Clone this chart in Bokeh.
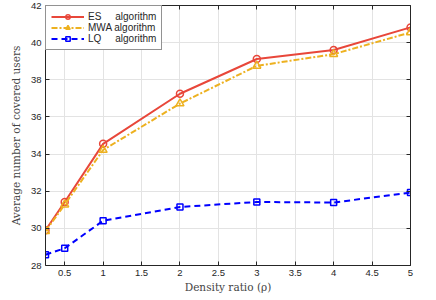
from bokeh.plotting import figure
from bokeh.models import LinearAxis, FixedTicker, Range1d, Legend, LegendItem
from bokeh.embed import file_html
from bokeh.resources import INLINE

density = [0.25, 0.5, 1, 2, 3, 4, 5]
es = [29.9, 31.42, 34.55, 37.25, 39.12, 39.6, 40.82]
mwa = [29.85, 31.28, 34.22, 36.72, 38.75, 39.38, 40.55]
lq = [28.58, 28.93, 30.41, 31.15, 31.42, 31.39, 31.93]

x_ticks = [0.5, 1, 1.5, 2, 2.5, 3, 3.5, 4, 4.5, 5]
x_tick_labels = ["0.5", "1", "1.5", "2", "2.5", "3", "3.5", "4", "4.5", "5"]
y_ticks = [28, 30, 32, 34, 36, 38, 40, 42]

legend_labels = ["ES\u00a0\u00a0\u00a0\u00a0\u00a0algorithm", "MWA algorithm", "LQ\u00a0\u00a0\u00a0\u00a0\u00a0algorithm"]

ES_C = "#e8473a"
MWA_C = "#edb120"
LQ_C = "#0000ff"
AX_C = "#262626"
TICK_FONT = "Liberation Sans"
LABEL_FONT = "DejaVu Serif"

p = figure(width=428, height=296, output_backend="svg", toolbar_location=None,
           x_range=Range1d(0.25, 5), y_range=Range1d(28, 42),
           min_border_left=45, min_border_right=18, min_border_top=5, min_border_bottom=31)
p.outline_line_color = None
p.background_fill_color = "white"

# grid
for g in (p.xgrid[0], p.ygrid[0]):
    g.grid_line_color = "#e3e3e3"
    g.grid_line_width = 1
p.xgrid[0].ticker = FixedTicker(ticks=x_ticks)
p.ygrid[0].ticker = FixedTicker(ticks=y_ticks)

def style_axis(ax, ticks, show_labels=True):
    ax.ticker = FixedTicker(ticks=ticks)
    ax.axis_line_color = AX_C
    ax.axis_line_width = 1
    ax.major_tick_in = 4
    ax.major_tick_out = 0
    ax.major_tick_line_color = AX_C
    ax.minor_tick_line_color = None
    ax.major_label_text_font = TICK_FONT
    if show_labels:
        ax.major_label_text_color = AX_C
        ax.major_label_text_font_size = "9.5px"
        ax.major_label_standoff = 4
    else:
        ax.major_label_text_color = None
        ax.major_label_standoff = 0

xa = p.xaxis[0]
style_axis(xa, x_ticks)
xa.major_label_overrides = {t: l for t, l in zip(x_ticks, x_tick_labels)}
xa.axis_label = "Density ratio (\u03c1)"
xa.axis_label_text_font = LABEL_FONT
xa.axis_label_text_font_style = "normal"
xa.axis_label_text_font_size = "10.5px"
xa.axis_label_text_color = "#444444"
xa.axis_label_standoff = 2

ya = p.yaxis[0]
style_axis(ya, y_ticks)
ya.axis_label = "Average number of covered users"
ya.axis_label_text_font = LABEL_FONT
ya.axis_label_text_font_style = "normal"
ya.axis_label_text_font_size = "10.5px"
ya.axis_label_text_color = "#444444"
ya.axis_label_standoff = 6

top = LinearAxis()
style_axis(top, x_ticks, show_labels=False)
right = LinearAxis()
style_axis(right, y_ticks, show_labels=False)
p.add_layout(top, "above")
p.add_layout(right, "right")

# series
l1 = p.line(density, es, line_color=ES_C, line_width=2)
m1 = p.scatter(density, es, marker="circle", size=7, line_color=ES_C, line_width=1.5, fill_color=None)
l2 = p.line(density, mwa, line_color=MWA_C, line_width=2, line_dash="6 2 2 2")
m2 = p.scatter(density, mwa, marker="triangle", size=8, line_color=MWA_C, line_width=1.5, fill_color=None)
l3 = p.line(density, lq, line_color=LQ_C, line_width=2, line_dash="6 4")
m3 = p.scatter(density, lq, marker="square", size=6, line_color=LQ_C, line_width=1.5, fill_color=None)

legend = Legend(items=[
    LegendItem(label=legend_labels[0], renderers=[l1, m1]),
    LegendItem(label=legend_labels[1], renderers=[l2, m2]),
    LegendItem(label=legend_labels[2], renderers=[l3, m3]),
], location="top_left")
legend.margin = 0
legend.padding = 5
legend.spacing = 0
legend.glyph_height = 11
legend.glyph_width = 33
legend.label_height = 11
legend.label_standoff = 4
legend.label_text_font = TICK_FONT
legend.label_text_font_size = "10px"
legend.label_text_color = AX_C
legend.border_line_color = AX_C
legend.border_line_width = 1
legend.background_fill_color = "white"
legend.background_fill_alpha = 1
p.add_layout(legend)

open("out.html", "w").write(file_html(p, INLINE))
